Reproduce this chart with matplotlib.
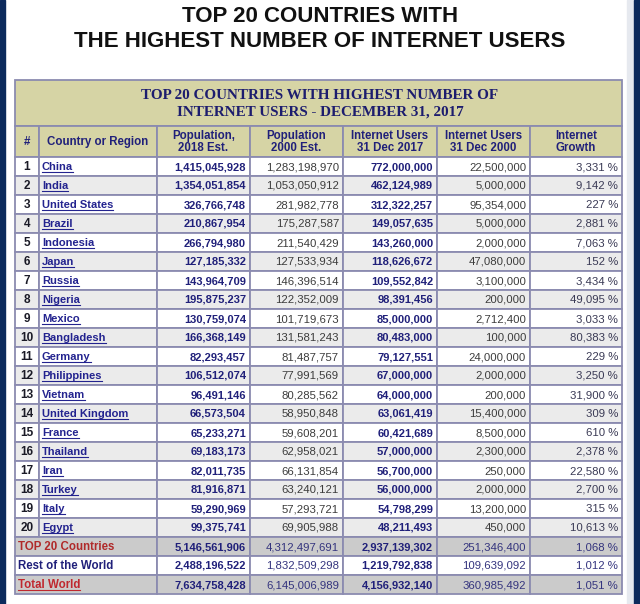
import matplotlib
matplotlib.use("Agg")
import matplotlib.pyplot as plt
from matplotlib.patches import Rectangle

# table data (Internet World Stats, Dec 31 2017)
ranks = list(range(1, 21))
countries = ["China", "India", "United States", "Brazil", "Indonesia", "Japan", "Russia",
             "Nigeria", "Mexico", "Bangladesh", "Germany", "Philippines", "Vietnam",
             "United Kingdom", "France", "Thailand", "Iran", "Turkey", "Italy", "Egypt"]
pop_2018 = [1415045928, 1354051854, 326766748, 210867954, 266794980, 127185332, 143964709,
            195875237, 130759074, 166368149, 82293457, 106512074, 96491146, 66573504,
            65233271, 69183173, 82011735, 81916871, 59290969, 99375741]
pop_2000 = [1283198970, 1053050912, 281982778, 175287587, 211540429, 127533934, 146396514,
            122352009, 101719673, 131581243, 81487757, 77991569, 80285562, 58950848,
            59608201, 62958021, 66131854, 63240121, 57293721, 69905988]
users_2017 = [772000000, 462124989, 312322257, 149057635, 143260000, 118626672, 109552842,
              98391456, 85000000, 80483000, 79127551, 67000000, 64000000, 63061419,
              60421689, 57000000, 56700000, 56000000, 54798299, 48211493]
users_2000 = [22500000, 5000000, 95354000, 5000000, 2000000, 47080000, 3100000, 200000,
              2712400, 100000, 24000000, 2000000, 200000, 15400000, 8500000, 2300000,
              250000, 2000000, 13200000, 450000]
growth = [3331, 9142, 227, 2881, 7063, 152, 3434, 49095, 3033, 80383, 229, 3250, 31900,
          309, 610, 2378, 22580, 2700, 315, 10613]

summary_labels = ["TOP 20 Countries", "Rest of the World", "Total World"]
summary_pop_2018 = [5146561906, 2488196522, 7634758428]
summary_pop_2000 = [4312497691, 1832509298, 6145006989]
summary_users_2017 = [2937139302, 1219792838, 4156932140]
summary_users_2000 = [251346400, 109639092, 360985492]
summary_growth = [1068, 1012, 1051]

headers = ["#", "Country or Region", "Population,\n2018 Est.", "Population\n2000 Est.",
           "Internet Users\n31 Dec 2017", "Internet Users\n31 Dec 2000", "Internet\nGrowth"]
main_title = "TOP 20 COUNTRIES WITH\nTHE HIGHEST NUMBER OF INTERNET USERS"
band_title = "TOP 20 COUNTRIES WITH HIGHEST NUMBER OF\nINTERNET USERS - DECEMBER 31, 2017"

# layout in pixels
col_edges = [15, 39, 157, 250, 343, 437, 530, 622]
band_top, head_top, body_top, row_h = 80, 126, 157, 19

SANS = "Liberation Sans"
khaki = "#d6d4a5"
border = "#8b8bb0"
navy = "#20207a"
link = "#23238f"
grey = "#3c3c3c"

fig = plt.figure(figsize=(6.4, 6.04), dpi=100)
ax = fig.add_axes([0, 0, 1, 1])
ax.set_xlim(0, 640)
ax.set_ylim(604, 0)
ax.axis("off")

# page frame
ax.add_patch(Rectangle((0, 0), 5, 604, color="#0c2a5c"))
ax.add_patch(Rectangle((627, 0), 7, 604, color="#e6e9ef"))
ax.add_patch(Rectangle((634, 0), 6, 604, color="#0c2a5c"))

ax.text(320, 29, main_title, ha="center", va="center", family=SANS, weight="bold",
        fontsize=16, color="#111111", linespacing=1.3)

lw = 1.3
ax.add_patch(Rectangle((col_edges[0], band_top), col_edges[-1] - col_edges[0],
                       head_top - band_top, fc=khaki, ec=border, lw=lw))
ax.text(320, 104, band_title, ha="center", va="center", family="Liberation Serif",
        weight="bold", fontsize=10.9, color="#1d1d6e", linespacing=1.35)


def cell(c0, c1, top, fc):
    ax.add_patch(Rectangle((col_edges[c0], top), col_edges[c1] - col_edges[c0], row_h,
                           fc=fc, ec=border, lw=lw))


for c, h in enumerate(headers):
    x0, x1 = col_edges[c], col_edges[c + 1]
    ax.add_patch(Rectangle((x0, head_top), x1 - x0, body_top - head_top, fc=khaki,
                           ec=border, lw=lw))
    ax.text((x0 + x1) / 2, (head_top + body_top) / 2 + 0.5, h, ha="center", va="center",
            family=SANS, weight="bold", fontsize=8.3, color=navy, linespacing=1.0)

underlined = []


def num(c, y, v, bold, color, suffix=""):
    ax.text(col_edges[c + 1] - 4, y, f"{v:,}{suffix}", ha="right", va="center",
            family=SANS, weight="bold" if bold else "normal",
            fontsize=8.0 if bold else 8.2, color=color)


for i in range(len(countries)):
    top = body_top + i * row_h
    y = top + row_h / 2 + 0.5
    fc = "white" if i % 2 == 0 else "#ebebeb"
    for c in range(7):
        cell(c, c + 1, top, fc)
    ax.text((col_edges[0] + col_edges[1]) / 2, y, str(ranks[i]), ha="center", va="center",
            family=SANS, weight="bold", fontsize=8.5, color="#1a1a26")
    t = ax.text(col_edges[1] + 3, y, countries[i], ha="left", va="center", family=SANS,
                weight="bold", fontsize=8.0, color=link)
    underlined.append((t, y, link))
    num(2, y, pop_2018[i], True, navy)
    num(3, y, pop_2000[i], False, grey)
    num(4, y, users_2017[i], True, navy)
    num(5, y, users_2000[i], False, grey)
    num(6, y, growth[i], False, "#3a3a55", " %")

sum_fc = ["#cbcbcb", "white", "#cbcbcb"]
sum_color = ["#b02a2a", navy, "#c0282f"]
for j, lab in enumerate(summary_labels):
    top = body_top + (len(countries) + j) * row_h
    y = top + row_h / 2 + 0.5
    cell(0, 2, top, sum_fc[j])
    for c in range(2, 7):
        cell(c, c + 1, top, sum_fc[j])
    t = ax.text(col_edges[0] + 3, y, lab, ha="left", va="center", family=SANS,
                weight="bold", fontsize=8.3, color=sum_color[j])
    if j == 2:
        underlined.append((t, y, sum_color[j]))
    num(2, y, summary_pop_2018[j], True, navy)
    num(3, y, summary_pop_2000[j], False, "#34347e")
    num(4, y, summary_users_2017[j], True, navy)
    num(5, y, summary_users_2000[j], False, "#34347e")
    num(6, y, summary_growth[j], False, "#34347e", " %")

# underline the link-styled names
fig.canvas.draw()
r = fig.canvas.get_renderer()
inv = ax.transData.inverted()
for t, y, color in underlined:
    bb = t.get_window_extent(r)
    (xa, _), (xb, _) = inv.transform([[bb.x0, bb.y0], [bb.x1, bb.y1]])
    ax.plot([xa, xb], [y + 4.8, y + 4.8], color=color, lw=0.8)

fig.savefig("out.png", dpi=100)
